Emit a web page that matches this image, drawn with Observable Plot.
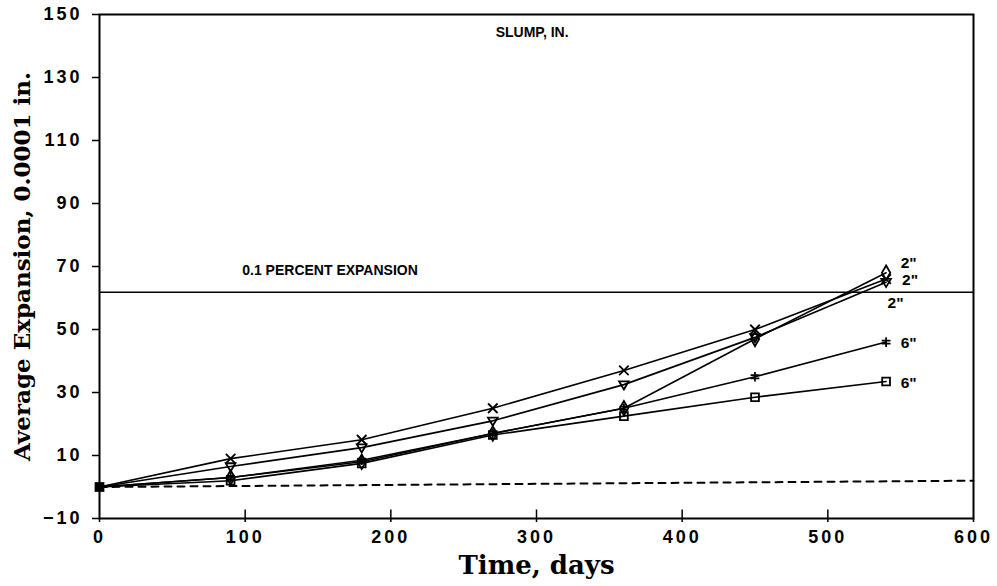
<!DOCTYPE html>
<html><head><meta charset="utf-8">
<script src="https://cdn.jsdelivr.net/npm/d3@7"></script>
<script src="https://cdn.jsdelivr.net/npm/@observablehq/plot@0.6"></script>
<style>body{margin:0;background:#fff} svg{display:block}</style>
</head><body><div id="chart"></div>
<script>
const days = [0, 90, 180, 270, 360, 450, 540];
const crossSeries = [0, 9, 15, 25, 37, 50, 66];      // 2" (x)
const triangleSeries = [0, 6.5, 12.5, 21, 32.5, 47.5, 65]; // 2" (down triangle)
const diamondSeries = [0, 3, 8, 17, 25, 47, 68];     // 2" (diamond)
const hashSeries = [0, 3, 8.5, 17, 25, 35, 46];       // 6" (hash)
const squareSeries = [0, 2, 7.5, 16.5, 22.5, 28.5, 33.5]; // 6" (square)
const limitValue = 61.8;
const limitLabel = "0.1 PERCENT EXPANSION";
const slumpTitle = "SLUMP, IN.";
const dashDays = [0, 600];
const dashValues = [0, 2];
const xTicks = [0, 100, 200, 300, 400, 500, 600];
const yTicks = [-10, 10, 30, 50, 70, 90, 110, 130, 150];
const endLabels = ['2"', '2"', '2"', '6"', '6"'];
const endLabelDays = [550, 551, 541, 550, 550];
const endLabelValues = [71, 65.8, 58.3, 45.8, 33.1];

const triDown = {draw(ctx, size) {
  const r = Math.sqrt(size / Math.PI);
  ctx.moveTo(-r * 1.1, -r * 0.75); ctx.lineTo(r * 1.1, -r * 0.75); ctx.lineTo(0, r * 1.1); ctx.closePath();
}};
const hashSym = {draw(ctx, size) {
  const r = Math.sqrt(size / Math.PI);
  ctx.moveTo(0, -r * 1.1); ctx.lineTo(0, r * 1.1);
  ctx.moveTo(-r, -r * 0.35); ctx.lineTo(r, -r * 0.35);
  ctx.moveTo(-r, r * 0.35); ctx.lineTo(r, r * 0.35);
}};

const seriesDefs = [
  {vals: crossSeries, symbol: "times"},
  {vals: triangleSeries, symbol: triDown},
  {vals: diamondSeries, symbol: "diamond"},
  {vals: hashSeries, symbol: hashSym},
  {vals: squareSeries, symbol: "square"}
];
const rows = s => days.map((d, i) => ({d, v: s.vals[i]}));

const marks = [];
marks.push(Plot.ruleY([limitValue], {stroke: "black", strokeWidth: 1.5}));
marks.push(Plot.line(dashDays.map((d, i) => ({d, v: dashValues[i]})), {x: "d", y: "v", stroke: "black", strokeWidth: 2, strokeDasharray: "7,6"}));
for (const s of seriesDefs) {
  const r = rows(s);
  marks.push(Plot.line(r, {x: "d", y: "v", stroke: "black", strokeWidth: 1.6}));
  marks.push(Plot.dot(r.slice(1), {x: "d", y: "v", symbol: () => s.symbol, stroke: "black", strokeWidth: 1.8, fill: "none", r: 4.4}));
}
marks.push(Plot.dot([{d: days[0], v: crossSeries[0]}], {x: "d", y: "v", symbol: "square", fill: "black", r: 5.5}));
marks.push(Plot.ruleX(xTicks.slice(1, -1), {x: d => d, y1: -10, y2: -7.3, stroke: "black", strokeWidth: 1.5}));
marks.push(Plot.frame({stroke: "black", strokeWidth: 2}));
marks.push(Plot.axisY(yTicks, {tickSize: 7, tickPadding: 10, label: null, fontSize: 18, fontWeight: "bold", strokeWidth: 1.5}));
marks.push(Plot.axisX(xTicks, {tickSize: 4, tickPadding: 8, label: null, fontSize: 18, fontWeight: "bold", strokeWidth: 1.5}));
marks.push(Plot.text([slumpTitle], {x: 297, y: 144.4, fontSize: 14, fontWeight: "bold", ariaLabel: "spaced"}));
marks.push(Plot.text([limitLabel], {x: 98, y: 68.7, textAnchor: "start", fontSize: 14, fontWeight: "bold", ariaLabel: "spaced"}));
marks.push(Plot.text(endLabels, {x: endLabelDays, y: endLabelValues, text: d => d, textAnchor: "start", fontSize: 15.5, fontWeight: "bold"}));
marks.push(Plot.text(["Average Expansion, 0.0001 in."], {frameAnchor: "left", textAnchor: "middle", rotate: -90, dx: -77, fontFamily: "DejaVu Serif", fontWeight: "bold", fontSize: 23}));
marks.push(Plot.text(["Time, days"], {frameAnchor: "bottom", textAnchor: "middle", dy: 55, fontFamily: "DejaVu Serif", fontWeight: "bold", fontSize: 26, ariaLabel: "xtitle"}));

const chart = Plot.plot({
  width: 997, height: 586,
  marginTop: 14, marginRight: 24, marginBottom: 68, marginLeft: 99,
  style: {fontFamily: "Liberation Sans", color: "black", background: "white", overflow: "visible"},
  x: {domain: [0, 600]},
  y: {domain: [-10, 150]},
  marks
});
chart.querySelectorAll('g[aria-label="y-axis tick label"] text, g[aria-label="x-axis tick label"] text').forEach(t => t.setAttribute("letter-spacing", "3"));
chart.querySelectorAll('g[aria-label="xtitle"] text').forEach(t => t.setAttribute("letter-spacing", "2"));
chart.querySelectorAll('g[aria-label="spaced"] text').forEach(t => t.setAttribute("letter-spacing", "1"));
document.getElementById("chart").appendChild(chart);
</script></body></html>
